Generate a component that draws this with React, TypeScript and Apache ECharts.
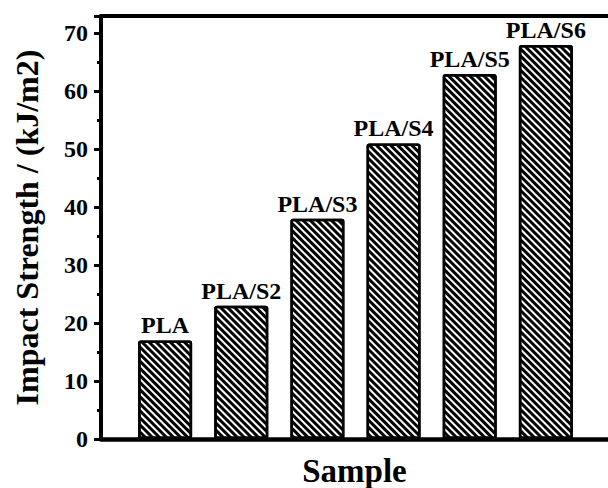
import React, { useEffect, useRef } from "react";
import * as echarts from "echarts";

const categories = ["PLA", "PLA/S2", "PLA/S3", "PLA/S4", "PLA/S5", "PLA/S6"];
const impactValues = [17, 23, 38, 51, 63, 68];
const yTicks = [0, 10, 20, 30, 40, 50, 60, 70];

const FONT = "'Liberation Serif', 'Times New Roman', serif";

export default function App() {
  const ref = useRef<HTMLDivElement>(null);
  useEffect(() => {
    if (!ref.current) return;
    const chart = echarts.init(ref.current, null, { renderer: "svg" });
    const decal = {
      symbol: "rect",
      symbolSize: 1,
      dashArrayX: [1, 0],
      dashArrayY: [2.1, 1.9],
      rotation: Math.PI / 4,
      color: "#000",
      backgroundColor: "#fff",
    };
    chart.setOption({
      animation: false,
      backgroundColor: "#fff",
      grid: { left: 101, top: 16, right: 0, bottom: 49, outerBoundsMode: "none", containLabel: false },
      xAxis: [
        {
          type: "value",
          min: 0.158,
          max: 6.816,
          name: "Sample",
          nameLocation: "middle",
          nameGap: 15,
          nameTextStyle: { fontFamily: FONT, fontWeight: "bold", fontSize: 33, color: "#000" },
          axisLine: { show: true, onZero: false, lineStyle: { color: "#000", width: 4.5 } },
          axisTick: { show: false },
          axisLabel: { show: false },
          splitLine: { show: false },
        },
        {
          type: "value",
          position: "top",
          min: 0.158,
          max: 6.816,
          axisLine: { show: true, onZero: false, lineStyle: { color: "#000", width: 4 } },
          axisTick: { show: false },
          axisLabel: { show: false },
          splitLine: { show: false },
        },
      ],
      yAxis: {
        type: "value",
        min: 0,
        max: 73,
        interval: 10,
        name: "Impact Strength / (kJ/m2)",
        nameLocation: "middle",
        nameGap: 58,
        nameRotate: 90,
        nameTextStyle: { fontFamily: FONT, fontWeight: "bold", fontSize: 32, color: "#000" },
        axisLine: { show: true, lineStyle: { color: "#000", width: 4 } },
        axisTick: { show: true, inside: false, length: 7, lineStyle: { color: "#000", width: 3 } },
        minorTick: { show: true, splitNumber: 2, length: 4, lineStyle: { color: "#000", width: 3 } },
        axisLabel: {
          fontFamily: FONT,
          fontWeight: "bold",
          fontSize: 24,
          color: "#000",
          margin: 13,
          formatter: (v: number) => (yTicks.includes(v) ? String(v) : ""),
        },
        splitLine: { show: false },
      },
      series: [
        {
          type: "bar",
          barWidth: 54,
          data: impactValues.map((v, i) => ({ value: [i + 1, v], name: categories[i] })),
          itemStyle: {
            color: "#fff",
            borderColor: "#000",
            borderWidth: 2.5,
            borderRadius: 1.5,
            decal,
          },
          label: {
            show: true,
            position: "top",
            distance: 3,
            formatter: (p: any) => categories[p.dataIndex],
            fontFamily: FONT,
            fontWeight: "bold",
            fontSize: 24,
            color: "#000",
          },
        },
      ],
    });
    return () => chart.dispose();
  }, []);
  return (
    <div
      ref={ref}
      style={{ position: "fixed", left: 0, top: 0, width: 608, height: 488 }}
    />
  );
}
